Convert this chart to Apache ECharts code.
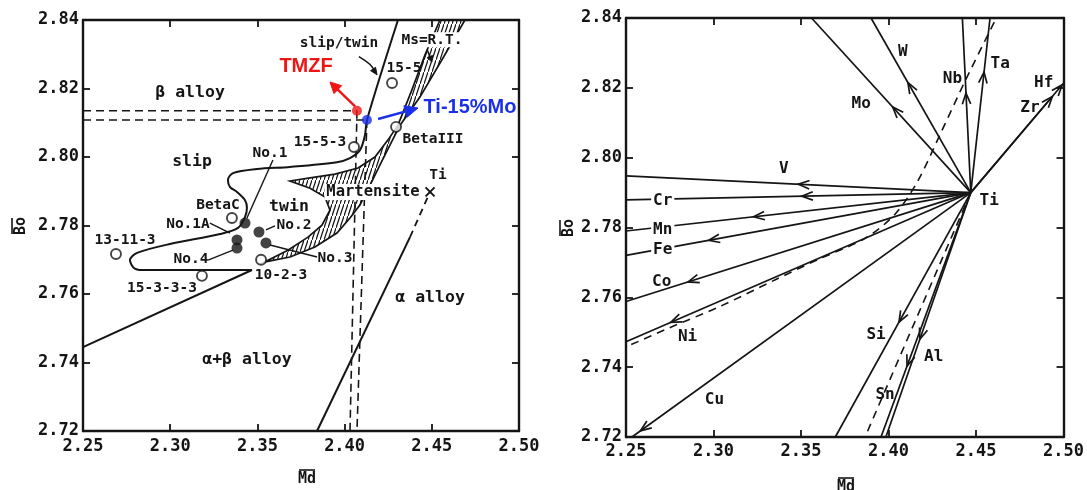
<!DOCTYPE html>
<html>
<head>
<meta charset="utf-8">
<script src="https://cdn.jsdelivr.net/npm/echarts@6/dist/echarts.min.js"></script>
<style>
  html, body { margin: 0; padding: 0; background: #fff; }
  #chart { width: 1087px; height: 490px; }
</style>
</head>
<body>
<div id="chart"></div>
<script>
// ================= Axis ranges / tick labels =================
const tickMd = [2.25, 2.30, 2.35, 2.40, 2.45, 2.50];
const tickBo = [2.72, 2.74, 2.76, 2.78, 2.80, 2.82, 2.84];

// ================= Left panel: Bo–Md map =================
// Commercial alloys (open circles)
const alloyNames = ['15-5', '15-5-3', 'BetaIII', 'BetaC', '10-2-3', '13-11-3', '15-3-3-3'];
const alloyMd = [2.4272, 2.4054, 2.4295, 2.3354, 2.3521, 2.2689, 2.3182];
const alloyBo = [2.8216, 2.8029, 2.8088, 2.7822, 2.7700, 2.7717, 2.7653];

// Experimental alloys (filled circles)
const expNames = ['No.1', 'No.1A', 'No.4', 'No.2', 'No.3'];
const expMd = [2.3429, 2.3383, 2.3383, 2.3509, 2.3549];
const expBo = [2.7807, 2.7758, 2.7734, 2.7781, 2.7749];

// Highlighted alloys
const tmzf = [2.4071, 2.8135];
const ti15Mo = [2.4128, 2.8108];

// Pure titanium
const tiPoint = [2.4490, 2.7898];

// slip / twin boundary (continues round the twin region)
const slipTwinMd = [2.4306, 2.4128, 2.4117, 2.4088, 2.4031, 2.3956, 2.3687, 2.3498, 2.3360, 2.3331, 2.3343, 2.3383, 2.3429, 2.3440, 2.3429, 2.3389, 2.3286, 2.2999, 2.2810, 2.2769, 2.2792, 2.2838, 2.3469];
const slipTwinBo = [2.8400, 2.8108, 2.8064, 2.8020, 2.7997, 2.7985, 2.7971, 2.7965, 2.7953, 2.7933, 2.7912, 2.7898, 2.7874, 2.7851, 2.7825, 2.7793, 2.7775, 2.7746, 2.7720, 2.7699, 2.7676, 2.7670, 2.7670];

// beta / alpha+beta boundary
const betaLineMd = [2.3469, 2.2500];
const betaLineBo = [2.7670, 2.7445];

// alpha / alpha+beta boundary (solid part, then dashed to Ti)
const alphaLineMd = [2.3842, 2.4375];
const alphaLineBo = [2.7200, 2.7766];
const alphaDashMd = [2.4375, 2.4490];
const alphaDashBo = [2.7766, 2.7898];

// Martensite band: Ms = R.T. edge and inner edge
const msEdgeMd = [2.4690, 2.4564, 2.4432, 2.4318, 2.4260, 2.4203, 2.4146, 2.4088, 2.4031, 2.3956, 2.3830, 2.3687, 2.3538];
const msEdgeBo = [2.8400, 2.8289, 2.8175, 2.8093, 2.8035, 2.7977, 2.7918, 2.7860, 2.7822, 2.7778, 2.7737, 2.7708, 2.7693];
const innerEdgeMd = [2.3675, 2.3790, 2.3870, 2.3916, 2.3888, 2.3802, 2.3687, 2.3802, 2.3945, 2.4077, 2.4174, 2.4249, 2.4306, 2.4386, 2.4461, 2.4547];
const innerEdgeBo = [2.7728, 2.7766, 2.7801, 2.7845, 2.7883, 2.7909, 2.7930, 2.7939, 2.7950, 2.7968, 2.8000, 2.8050, 2.8093, 2.8196, 2.8298, 2.8400];

// Where the guide lines from the two highlighted alloys meet the Md axis
const guideFootMd = [2.4031, 2.4071];

// ================= Right panel: alloying vectors from Ti =================
const tiOrigin = [2.447, 2.790];
const elemNames = ['V', 'Cr', 'Mn', 'Fe', 'Co', 'Ni', 'Cu', 'Si', 'Al', 'Sn', 'Mo', 'W', 'Nb', 'Ta', 'Zr', 'Hf'];
const elemEndMd = [2.2500, 2.2500, 2.2500, 2.2500, 2.2500, 2.2500, 2.2534, 2.3696, 2.3985, 2.3957, 2.3560, 2.3900, 2.4422, 2.4580, 2.4936, 2.5000];
const elemEndBo = [2.7948, 2.7879, 2.7790, 2.7720, 2.7588, 2.7473, 2.7200, 2.7200, 2.7200, 2.7200, 2.8400, 2.8400, 2.8400, 2.8400, 2.8175, 2.8213];

// dashed boundary curve
const curveMd = [2.4604, 2.4439, 2.4297, 2.4167, 2.4037, 2.3866, 2.3600, 2.3356, 2.3033, 2.2749, 2.2500];
const curveBo = [2.8388, 2.8221, 2.8069, 2.7933, 2.7838, 2.7769, 2.7709, 2.7651, 2.7573, 2.7513, 2.7458];
// dashed ray between Si and Al
const rayMd = [2.4470, 2.3866];
const rayBo = [2.7900, 2.7200];

// ================= Styling / placement =================
const INK = '#151515';
const RED = '#ee1515';
const BLUE = '#1a30e8';
const MONO = '"DejaVu Sans Mono", monospace';
const SANS = '"Liberation Sans", Arial, sans-serif';

// where each element's arrowhead sits along its ray (fraction from Ti)
const arrowAt = [0.50, 0.49, 0.63, 0.76, 0.82, 0.87, 0.975, 0.53, 0.60, 0.71, 0.49, 0.63, 0.57, 0.69, 1.0, 0.985];

// text placements, left panel  [text, Md, Bo]
const regionNotes = [
  ['β alloy', 2.3114, 2.8187], ['slip', 2.3125, 2.7985], ['twin', 2.3681, 2.7854],
  ['α alloy', 2.4490, 2.7588], ['α+β alloy', 2.3440, 2.7407]
];
const sampleNotes = [
  ['slip/twin', 2.3968, 2.8333], ['Ti', 2.4536, 2.7947],
  [alloyNames[0], 2.4341, 2.8260], [alloyNames[1], 2.3859, 2.8044], [alloyNames[2], 2.4507, 2.8053],
  [alloyNames[3], 2.3274, 2.7860], [alloyNames[4], 2.3635, 2.7655], [alloyNames[5], 2.2741, 2.7758],
  [alloyNames[6], 2.2953, 2.7618],
  [expNames[0], 2.3572, 2.8012], [expNames[1], 2.3102, 2.7804], [expNames[2], 2.3119, 2.7702],
  [expNames[3], 2.3710, 2.7801], [expNames[4], 2.3945, 2.7705]
];
// leader lines from sample labels to their points
const leaders = [
  [[2.3589, 2.7991], [2.3440, 2.7822]],
  [[2.3228, 2.7807], [2.3343, 2.7778]],
  [[2.3217, 2.7699], [2.3360, 2.7728]],
  [[2.3549, 2.7787], [2.3601, 2.7799]],
  [[2.3572, 2.7743], [2.3842, 2.7708]]
];
// text placements, right panel
const elemNotes = [
  ['V', 2.3402, 2.7968, false], ['Cr', 2.2710, 2.7876, true], ['Mn', 2.2710, 2.7792, true],
  ['Fe', 2.2710, 2.7735, true], ['Co', 2.2704, 2.7645, false], ['Ni', 2.2852, 2.7487, false],
  ['Cu', 2.3005, 2.7306, false], ['Si', 2.3929, 2.7493, false], ['Al', 2.4258, 2.7429, false],
  ['Sn', 2.3980, 2.7320, false], ['Mo', 2.3844, 2.8155, false], ['W', 2.4082, 2.8302, false],
  ['Nb', 2.4365, 2.8227, false], ['Ta', 2.4638, 2.8270, false], ['Hf', 2.4887, 2.8213, false],
  ['Zr', 2.4808, 2.8144, false], ['Ti', 2.4575, 2.7876, false]
];

// ================= helpers =================
const zip = (a, b) => a.map((v, i) => [v, b[i]]);

function hatchCanvas() {
  const c = document.createElement('canvas');
  c.width = 4; c.height = 12;
  const g = c.getContext('2d');
  g.strokeStyle = INK; g.lineWidth = 1.2;
  g.beginPath(); g.moveTo(-1, 15); g.lineTo(5, -3); g.stroke();
  return c;
}

function xAxisDef(grid, pos, labels, margin) {
  return {
    type: 'value', gridIndex: grid, position: pos,
    min: tickMd[0], max: tickMd[tickMd.length - 1], interval: 0.05,
    axisLine: { show: true, onZero: false, lineStyle: { color: INK, width: 2.4 } },
    axisTick: { show: true, inside: true, length: 7, lineStyle: { color: INK, width: 1.8 } },
    axisLabel: { show: labels, margin: margin, formatter: v => v.toFixed(2), color: INK, fontSize: 17, fontWeight: 'bold', fontFamily: MONO },
    splitLine: { show: false }
  };
}
function yAxisDef(grid, pos, labels) {
  return {
    type: 'value', gridIndex: grid, position: pos,
    min: tickBo[0], max: tickBo[tickBo.length - 1], interval: 0.02,
    axisLine: { show: true, onZero: false, lineStyle: { color: INK, width: 2.4 } },
    axisTick: { show: true, inside: true, length: 7, lineStyle: { color: INK, width: 1.8 } },
    axisLabel: { show: labels, margin: 4, formatter: v => v.toFixed(2), color: INK, fontSize: 17, fontWeight: 'bold', fontFamily: MONO },
    splitLine: { show: false }
  };
}

function lineS(panel, pts, o = {}) {
  return {
    type: 'line', xAxisIndex: panel * 2, yAxisIndex: panel * 2,
    data: pts, showSymbol: false, symbol: 'none', silent: true, animation: false,
    smooth: o.smooth || false, z: o.z || 3,
    lineStyle: { color: o.color || INK, width: o.width || 1.8, type: o.dash || 'solid' }
  };
}

function head(tip, ux, uy, len, hw, filled, color, lw) {
  const bx = tip[0] - ux * len, by = tip[1] - uy * len;
  const a = [bx - uy * hw, by + ux * hw], b = [bx + uy * hw, by - ux * hw];
  if (filled) {
    return { type: 'polygon', shape: { points: [a, tip, b] }, style: { fill: color, stroke: color, lineWidth: 1 } };
  }
  return { type: 'polyline', shape: { points: [a, tip, b] }, style: { stroke: color, lineWidth: lw, fill: null } };
}

// arrow along a polyline, head at the last point
function arrowS(panel, pts, color, lw, hl, hw, filled) {
  return {
    type: 'custom', xAxisIndex: panel * 2, yAxisIndex: panel * 2, silent: true, z: 7, animation: false,
    data: [pts[0]],
    renderItem(params, api) {
      const px = pts.map(p => api.coord(p));
      const n = px.length;
      const dx = px[n - 1][0] - px[n - 2][0], dy = px[n - 1][1] - px[n - 2][1];
      const L = Math.hypot(dx, dy);
      const ux = dx / L, uy = dy / L;
      const trimmed = px.slice(0, n - 1).concat([[px[n - 1][0] - ux * hl * 0.6, px[n - 1][1] - uy * hl * 0.6]]);
      return {
        type: 'group', children: [
          { type: 'polyline', shape: { points: filled ? trimmed : px, smooth: 0.4 }, style: { stroke: color, lineWidth: lw, fill: null } },
          head(px[n - 1], ux, uy, hl, hw, filled, color, lw)
        ]
      };
    }
  };
}

function textS(panel, notes, font, color, bgFor) {
  return {
    type: 'custom', xAxisIndex: panel * 2, yAxisIndex: panel * 2, silent: true, z: 12, animation: false,
    data: notes.map(n => [n[1], n[2]]),
    renderItem(params, api) {
      const n = notes[params.dataIndex];
      const p = api.coord([n[1], n[2]]);
      const bg = bgFor ? bgFor(n) : null;
      return {
        type: 'text', x: p[0], y: p[1],
        style: {
          text: n[0], fontSize: font.size, fontFamily: font.family, fontWeight: font.weight || 'normal',
          fill: color, align: 'center', verticalAlign: 'middle',
          backgroundColor: bg || 'transparent', padding: bg ? [0, 2] : 0
        }
      };
    }
  };
}

function overlineName(x, y, text, rotate) {
  return {
    type: 'group', x: x, y: y, rotation: rotate ? Math.PI / 2 : 0,
    children: [
      { type: 'text', style: { text: text, x: 0, y: 1, align: 'center', verticalAlign: 'middle', fontSize: 15, fontFamily: MONO, fontWeight: 'bold', fill: INK } },
      { type: 'line', shape: { x1: -8, y1: -8, x2: 8, y2: -8 }, style: { stroke: INK, lineWidth: 1.6 } }
    ]
  };
}

// ================= chart =================
const chart = echarts.init(document.getElementById('chart'), null, { renderer: 'canvas' });
const hatch = hatchCanvas();
const martPolygon = zip(msEdgeMd, msEdgeBo).concat(zip(innerEdgeMd, innerEdgeBo));
const labelFont = { size: 14.5, family: MONO, weight: 'bold' };
const regionFont = { size: 16.5, family: MONO, weight: 'bold' };

const series = [
  // --- left panel ---
  {
    type: 'custom', xAxisIndex: 0, yAxisIndex: 0, silent: true, z: 2, animation: false,
    data: [martPolygon[0]],
    renderItem(params, api) {
      const pts = martPolygon.map(p => api.coord(p));
      return { type: 'polygon', shape: { points: pts }, style: { fill: { image: hatch, repeat: 'repeat' }, stroke: INK, lineWidth: 1.7 } };
    }
  },
  lineS(0, zip(slipTwinMd, slipTwinBo), { smooth: 0.3, width: 2 }),
  lineS(0, zip(betaLineMd, betaLineBo), { width: 2 }),
  lineS(0, zip(alphaLineMd, alphaLineBo), { width: 2 }),
  lineS(0, zip(alphaDashMd, alphaDashBo), { width: 1.8, dash: [7, 5] }),
  // guide lines to the axes
  lineS(0, [[tickMd[0], tmzf[1]], tmzf], { width: 1.6, dash: [8, 5], z: 4 }),
  lineS(0, [[tickMd[0], ti15Mo[1]], ti15Mo], { width: 1.6, dash: [8, 5], z: 4 }),
  lineS(0, [tmzf, [guideFootMd[0], tickBo[0]]], { width: 1.6, dash: [8, 5], z: 4 }),
  lineS(0, [ti15Mo, [guideFootMd[1], tickBo[0]]], { width: 1.6, dash: [8, 5], z: 4 }),
  ...leaders.map(l => lineS(0, l, { width: 1.4 })),
  // Ti cross
  {
    type: 'custom', xAxisIndex: 0, yAxisIndex: 0, silent: true, z: 6, animation: false,
    data: [tiPoint],
    renderItem(params, api) {
      const p = api.coord(tiPoint), s = 4.5;
      return {
        type: 'group', children: [
          { type: 'line', shape: { x1: p[0] - s, y1: p[1] - s, x2: p[0] + s, y2: p[1] + s }, style: { stroke: INK, lineWidth: 1.9 } },
          { type: 'line', shape: { x1: p[0] - s, y1: p[1] + s, x2: p[0] + s, y2: p[1] - s }, style: { stroke: INK, lineWidth: 1.9 } }
        ]
      };
    }
  },
  {
    type: 'scatter', xAxisIndex: 0, yAxisIndex: 0, silent: true, z: 8, animation: false,
    data: zip(alloyMd, alloyBo), symbol: 'circle', symbolSize: 10,
    itemStyle: { color: '#fff', borderColor: INK, borderWidth: 1.9 }
  },
  {
    type: 'scatter', xAxisIndex: 0, yAxisIndex: 0, silent: true, z: 8, animation: false,
    data: zip(expMd, expBo), symbol: 'circle', symbolSize: 11,
    itemStyle: { color: INK }
  },
  {
    type: 'scatter', xAxisIndex: 0, yAxisIndex: 0, silent: true, z: 9, animation: false,
    data: [tmzf], symbol: 'circle', symbolSize: 10, itemStyle: { color: RED }
  },
  {
    type: 'scatter', xAxisIndex: 0, yAxisIndex: 0, silent: true, z: 9, animation: false,
    data: [ti15Mo], symbol: 'circle', symbolSize: 10, itemStyle: { color: BLUE }
  },
  arrowS(0, [[2.4060, 2.8148], [2.3916, 2.8219]], RED, 2.4, 11, 5.5, true),
  arrowS(0, [[2.4192, 2.8111], [2.4421, 2.8143]], BLUE, 2.4, 13, 6, true),
  arrowS(0, [[2.4082, 2.8293], [2.4146, 2.8270], [2.4186, 2.8240]], INK, 1.6, 7, 3, true),
  arrowS(0, [[2.4473, 2.8314], [2.4501, 2.8277]], INK, 1.6, 6, 3, true),
  textS(0, regionNotes, regionFont, INK),
  textS(0, sampleNotes, labelFont, INK),
  textS(0, [['Ms=R.T.', 2.4501, 2.8342]], labelFont, INK, () => '#fff'),
  textS(0, [['Martensite', 2.4163, 2.7898]], { size: 15.5, family: MONO, weight: 'bold' }, INK, () => '#fff'),
  textS(0, [['TMZF', 2.3779, 2.8263]], { size: 20, family: SANS, weight: 'bold' }, RED),
  textS(0, [['Ti-15%Mo', 2.4719, 2.8146]], { size: 20, family: SANS, weight: 'bold' }, BLUE),

  // --- right panel ---
  lineS(1, zip(curveMd, curveBo), { smooth: 0.3, width: 1.6, dash: [8, 6] }),
  lineS(1, zip(rayMd, rayBo), { width: 1.6, dash: [8, 6] }),
  {
    type: 'custom', xAxisIndex: 2, yAxisIndex: 2, silent: true, z: 5, animation: false,
    data: zip(elemEndMd, elemEndBo),
    renderItem(params, api) {
      const i = params.dataIndex;
      const p0 = api.coord(tiOrigin), p1 = api.coord([elemEndMd[i], elemEndBo[i]]);
      const dx = p1[0] - p0[0], dy = p1[1] - p0[1], L = Math.hypot(dx, dy);
      const ux = dx / L, uy = dy / L, f = arrowAt[i];
      const tip = [p0[0] + dx * f, p0[1] + dy * f];
      return {
        type: 'group', children: [
          { type: 'line', shape: { x1: p0[0], y1: p0[1], x2: p1[0], y2: p1[1] }, style: { stroke: INK, lineWidth: 1.7 } },
          head(tip, ux, uy, 11, 4.2, false, INK, 1.7)
        ]
      };
    }
  },
  textS(1, elemNotes, { size: 16, family: MONO, weight: 'bold' }, INK, n => (n[3] ? '#fff' : null))
];

chart.setOption({
  animation: false,
  backgroundColor: '#fff',
  grid: [
    { left: 83, top: 20, width: 436, height: 411, containLabel: false },
    { left: 626, top: 18, width: 441, height: 419, containLabel: false }
  ],
  xAxis: [xAxisDef(0, 'bottom', true, 7), xAxisDef(0, 'top', false, 7), xAxisDef(1, 'bottom', true, 6), xAxisDef(1, 'top', false, 6)],
  yAxis: [yAxisDef(0, 'left', true), yAxisDef(0, 'right', false), yAxisDef(1, 'left', true), yAxisDef(1, 'right', false)],
  series: series,
  graphic: [
    overlineName(20, 226, 'Bo', true),
    overlineName(307, 478, 'Md', false),
    overlineName(568, 228, 'Bo', true),
    overlineName(846, 486, 'Md', false)
  ]
});
</script>
</body>
</html>
